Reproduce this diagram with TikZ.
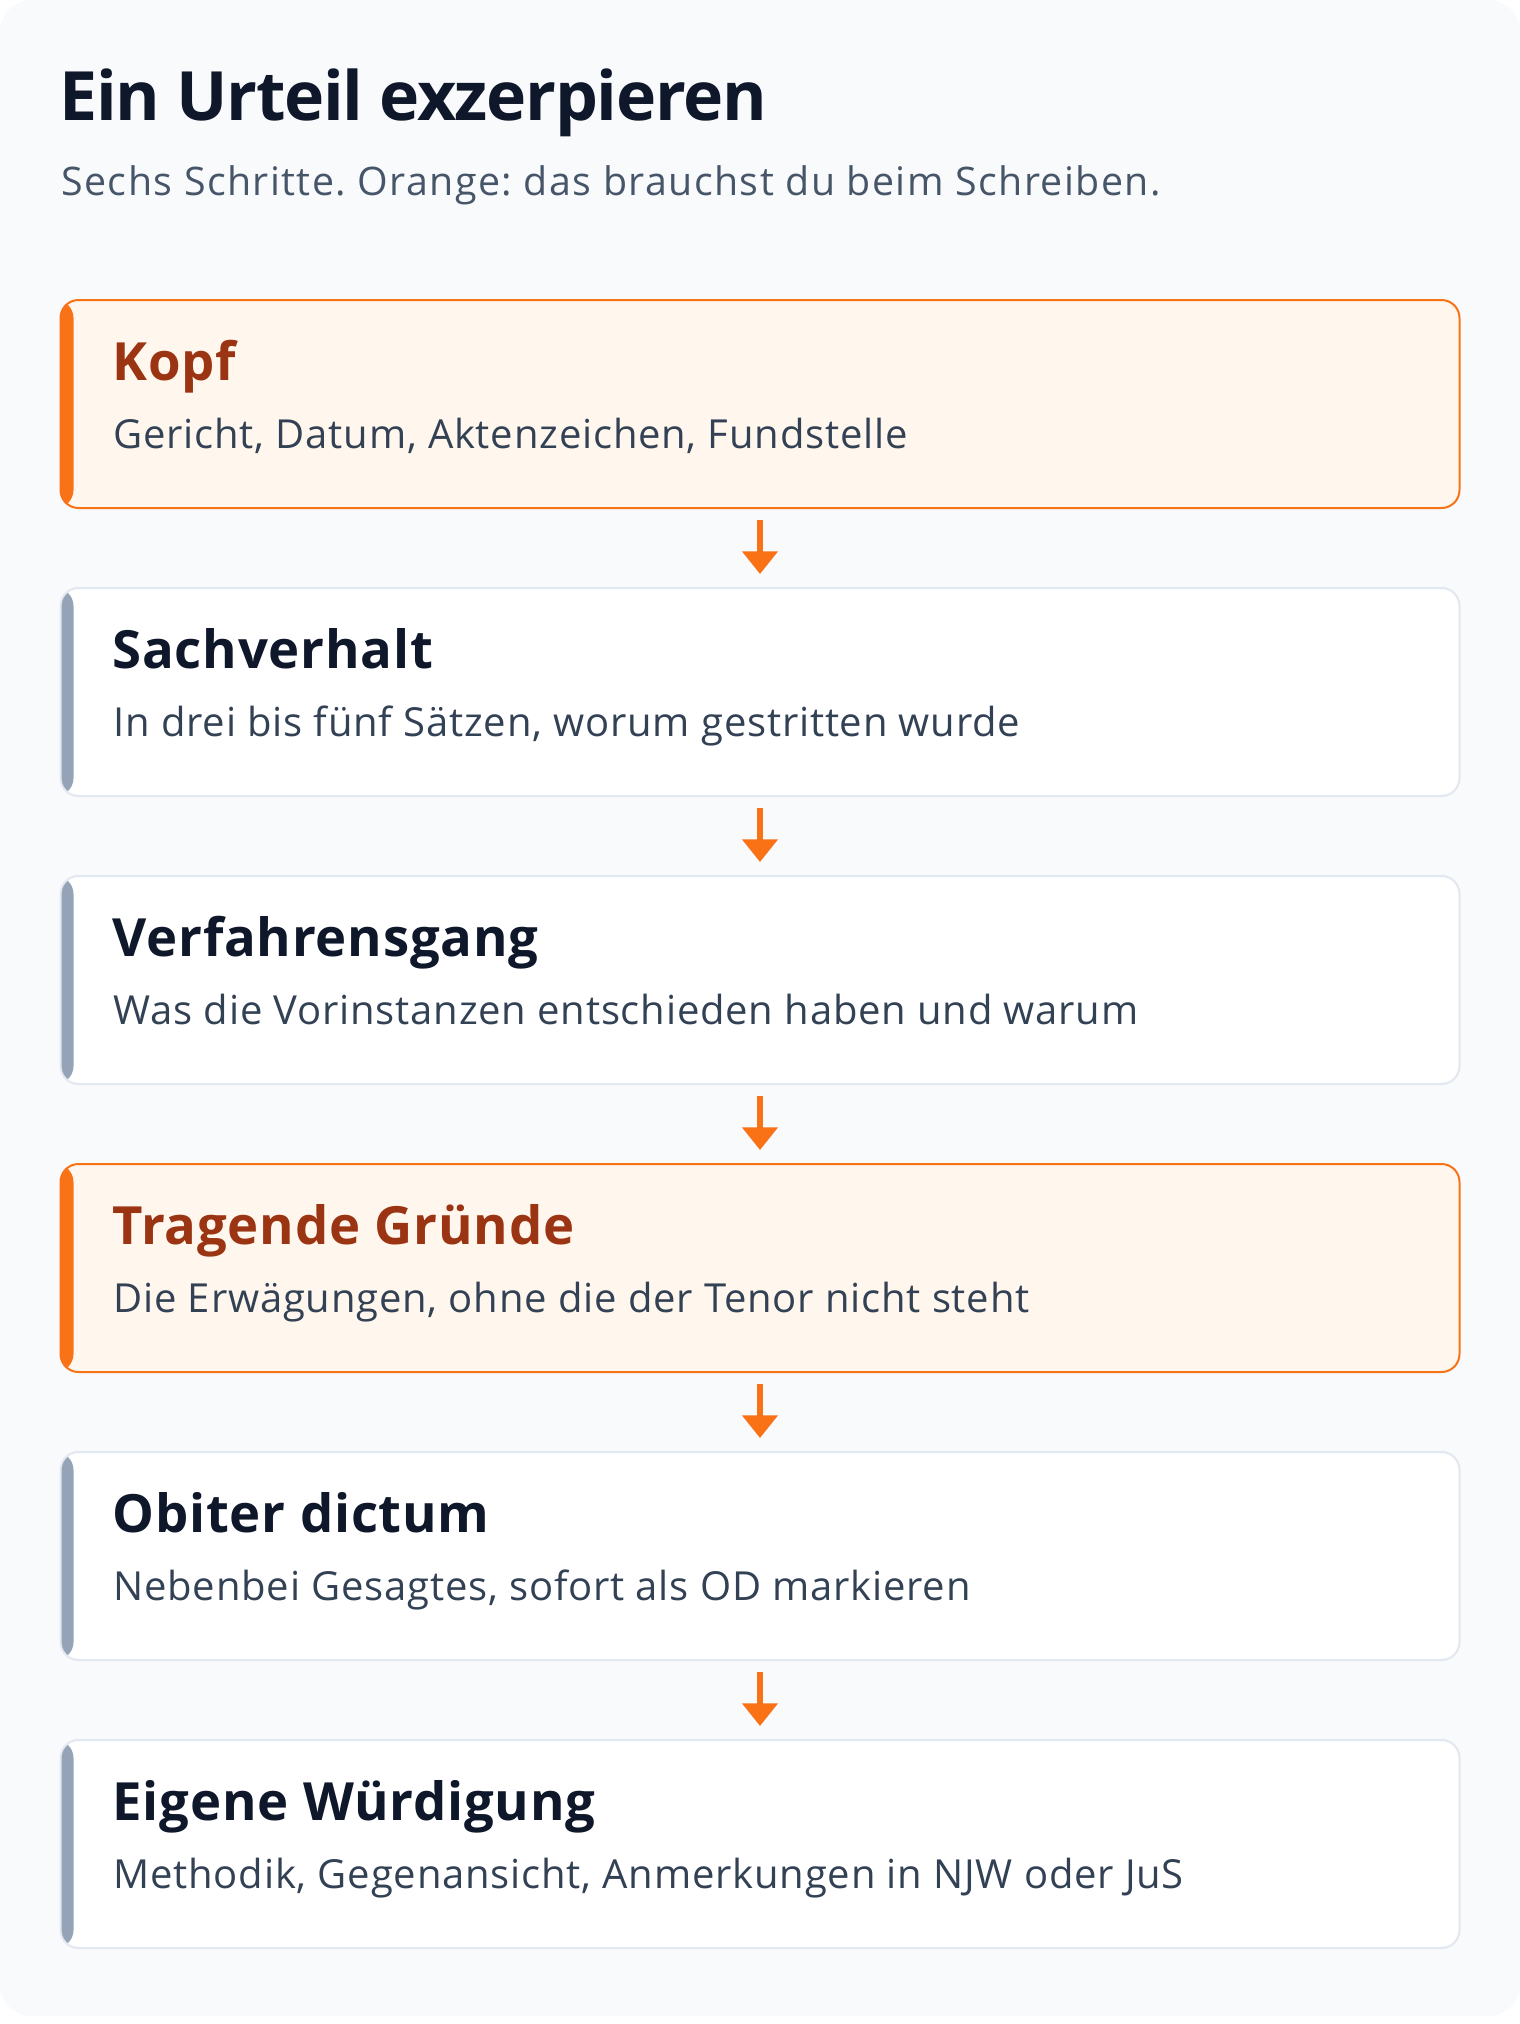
\documentclass[tikz,border=0pt]{standalone}
\usepackage{fontspec}
\setmainfont{Open Sans}
\usetikzlibrary{arrows.meta}

\definecolor{panelbg}{HTML}{F8FAFC}
\definecolor{inkdark}{HTML}{0F172A}
\definecolor{inksub}{HTML}{475569}
\definecolor{inktext}{HTML}{334155}
\definecolor{keyorange}{HTML}{F97316}
\definecolor{keyfill}{HTML}{FFF7ED}
\definecolor{keyhead}{HTML}{9A3412}
\definecolor{plainline}{HTML}{E2E8F0}
\definecolor{plainbar}{HTML}{94A3B8}

\tikzset{every picture/.style={line width=0.75pt}}
\frenchspacing

\begin{document}
\begin{tikzpicture}[x=0.75pt,y=0.75pt,yscale=-1,xscale=1,
  keybox/.style={draw=keyorange, fill=keyfill, line width=1.5pt, rounded corners=13.5pt,
    minimum width=1049.25pt, minimum height=156pt, outer sep=0pt, inner sep=0pt,
    path picture={\fill[keyorange] (path picture bounding box.north west) rectangle ([xshift=9.75pt]path picture bounding box.south west);}},
  plainbox/.style={keybox, draw=plainline, fill=white,
    path picture={\fill[plainbar] (path picture bounding box.north west) rectangle ([xshift=9.75pt]path picture bounding box.south west);}},
  headtxt/.style={anchor=base west, inner sep=0pt, text=inkdark, font=\fontsize{39.5}{46}\selectfont\bfseries\addfontfeatures{LetterSpace=1.5}},
  keyhead/.style={headtxt, text=keyhead},
  desctxt/.style={anchor=base west, inner sep=0pt, text=inktext, font=\fontsize{30}{36}\selectfont\addfontfeatures{LetterSpace=2}},
  flowarrow/.style={draw=keyorange, line width=4pt, -{Triangle[width=26pt,length=17pt]},
    shorten <=9pt, shorten >=10.5pt}]
\useasboundingbox (0,0) rectangle (1520,2024);

%Shape: Panel
\fill [panelbg, rounded corners=24pt] (0,0) rectangle (1520,2016);

% Text Node
\node [anchor=base west, inner sep=0pt, text=inkdark, font=\fontsize{51}{60}\selectfont\bfseries\addfontfeatures{LetterSpace=-2}] (title) at (59,120) {Ein Urteil exzerpieren};
% Text Node
\node [anchor=base west, inner sep=0pt, text=inksub, font=\fontsize{29.5}{36}\selectfont\addfontfeatures{LetterSpace=3.6}] (subtitle) at (61,195) {Sechs Schritte. Orange: das brauchst du beim Schreiben.};

%Shape: Step boxes
\node [keybox] (kopf) at (760,404) {};
\node [plainbox] (sachverhalt) at (760,692) {};
\node [plainbox] (verfahren) at (760,980) {};
\node [keybox] (gruende) at (760,1268) {};
\node [plainbox] (obiter) at (760,1556) {};
\node [plainbox] (wuerdigung) at (760,1844) {};

% Text Node
\node [keyhead] (kopfhead) at (112,380) {Kopf};
\node [desctxt] (kopftext) at (113,448) {Gericht, Datum, Aktenzeichen, Fundstelle};
% Text Node
\node [headtxt] (sachhead) at (112,668) {Sachverhalt};
\node [desctxt] (sachtext) at (113,736) {In drei bis fünf Sätzen, worum gestritten wurde};
% Text Node
\node [headtxt] (verfhead) at (112,956) {Verfahrensgang};
\node [desctxt] (verftext) at (113,1024) {Was die Vorinstanzen entschieden haben und warum};
% Text Node
\node [keyhead] (gruehead) at (112,1244) {Tragende Gründe};
\node [desctxt] (gruetext) at (113,1312) {Die Erwägungen, ohne die der Tenor nicht steht};
% Text Node
\node [headtxt] (obithead) at (112,1532) {Obiter dictum};
\node [desctxt] (obittext) at (113,1600) {Nebenbei Gesagtes, sofort als OD markieren};
% Text Node
\node [headtxt] (wuerhead) at (112,1820) {Eigene Würdigung};
\node [desctxt] (wuertext) at (113,1888) {Methodik, Gegenansicht, Anmerkungen in NJW oder JuS};

%Arrows
\draw [flowarrow] (kopf.south) -- (sachverhalt.north);
\draw [flowarrow] (sachverhalt.south) -- (verfahren.north);
\draw [flowarrow] (verfahren.south) -- (gruende.north);
\draw [flowarrow] (gruende.south) -- (obiter.north);
\draw [flowarrow] (obiter.south) -- (wuerdigung.north);

\end{tikzpicture}
\end{document}
